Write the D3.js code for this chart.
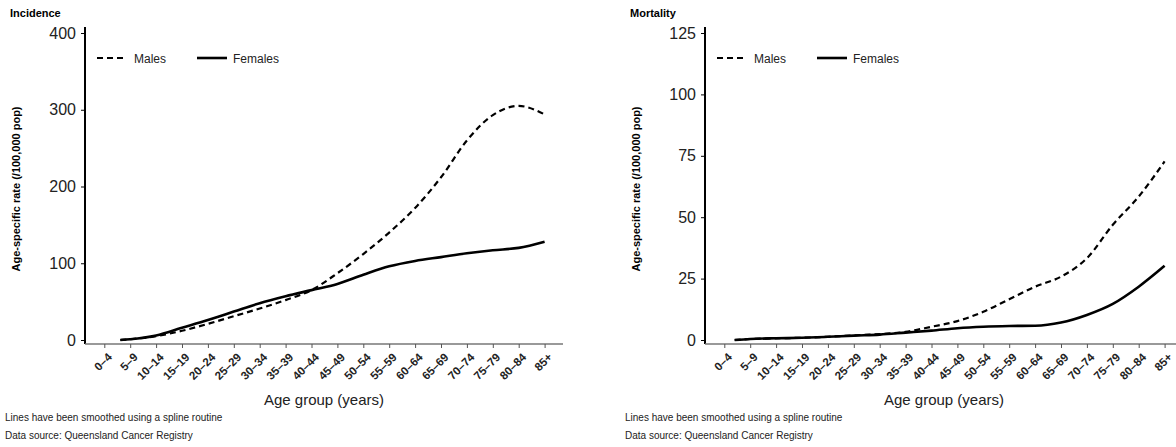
<!DOCTYPE html>
<html lang="en">
<head>
    <meta charset="UTF-8">
    <title>Incidence and mortality by age group</title>
    <script src="https://d3js.org/d3.v7.min.js"></script>
    <style>
        body { margin: 0; background: #fff; }
        text { font-family: Arial, "Liberation Sans", sans-serif; }
    </style>
</head>
<body>
    <svg width="1176" height="447"></svg>
    <script>

// Age groups on the x axis
const ageGroups = ['0\u20134', '5\u20139', '10\u201314', '15\u201319', '20\u201324', '25\u201329', '30\u201334', '35\u201339',
    '40\u201344', '45\u201349', '50\u201354', '55\u201359', '60\u201364', '65\u201369', '70\u201374', '75\u201379', '80\u201384', '85+'];

// Incidence (rate per 100,000), one value per age group, null where no line is drawn
const incidenceMales   = [null, 1, 5, 12, 21, 31, 41, 52, 65, 87, 112, 140, 172, 212, 260, 293, 305, 294];
const incidenceFemales = [null, 1, 6, 16, 26, 37, 48, 57, 65, 73, 85, 96, 103, 108, 113, 117, 120, 128];
const incidenceTicks = [0, 100, 200, 300, 400];
// smoothed line begins part way into the first age group (in age-group units)
const incidenceStart = 0.62;

// Mortality (rate per 100,000)
const mortalityMales   = [null, 0.4, 0.7, 0.9, 1.3, 1.9, 2.4, 3.3, 5.4, 7.7, 11.5, 16.6, 21.7, 25.8, 33.3, 46.9, 58.4, 72.7];
const mortalityFemales = [null, 0.4, 0.7, 0.9, 1.3, 1.8, 2.2, 3.0, 3.8, 4.8, 5.4, 5.7, 5.8, 7.1, 10.2, 14.7, 21.7, 30.2];
const mortalityTicks = [0, 25, 50, 75, 100, 125];
const mortalityStart = 0.4;

const svg = d3.select("svg");

function drawPanel(offsetX, title, ticks, males, females, start) {
    const g = svg.append("g").attr("transform", `translate(${offsetX},0)`);

    const axisX = 85, axisY = 344, axisEnd = 563;
    const x = d3.scalePoint().domain(ageGroups).range([104.3, 544.6]);
    const xi = d3.scaleLinear().domain([0, ageGroups.length - 1]).range([104.3, 544.6]);
    const y = d3.scaleLinear().domain([0, d3.max(ticks)]).range([340, 33]);

    // title
    g.append("text").attr("x", 10).attr("y", 17)
        .attr("font-size", 11).attr("font-weight", "bold").text(title);

    // y axis
    g.append("line").attr("x1", axisX).attr("x2", axisX).attr("y1", 27).attr("y2", axisY)
        .attr("stroke", "#000").attr("stroke-width", 2);
    const yAxis = g.append("g").attr("transform", `translate(${axisX},0)`)
        .call(d3.axisLeft(y).tickValues(ticks).tickSize(4).tickPadding(5));
    yAxis.select(".domain").remove();
    yAxis.selectAll("line").attr("stroke", "#000");
    yAxis.selectAll("text").attr("font-size", 16).attr("fill", "#222")
        .style("font-family", "Arial, 'Liberation Sans', sans-serif");

    // x axis
    g.append("line").attr("x1", axisX).attr("x2", axisEnd).attr("y1", axisY).attr("y2", axisY)
        .attr("stroke", "#777").attr("stroke-width", 1.5);
    const xAxis = g.append("g").attr("transform", `translate(0,${axisY})`)
        .call(d3.axisBottom(x).tickSize(4));
    xAxis.select(".domain").remove();
    xAxis.selectAll("line").attr("stroke", "#555");
    xAxis.selectAll("text")
        .attr("font-size", 11.5).attr("font-weight", "bold").attr("fill", "#222")
        .style("font-family", "Arial, 'Liberation Sans', sans-serif")
        .attr("text-anchor", "end")
        .attr("x", 0).attr("y", 0)
        .attr("dx", 0).attr("dy", "0.35em")
        .attr("transform", "translate(5,11) rotate(-45)");

    // axis titles
    g.append("text")
        .attr("transform", `translate(20,189) rotate(-90)`)
        .attr("text-anchor", "middle").attr("font-size", 11).attr("font-weight", "bold")
        .text("Age-specific rate (/100,000 pop)");
    g.append("text").attr("x", (axisX + axisEnd) / 2).attr("y", 405)
        .attr("text-anchor", "middle").attr("font-size", 15).attr("fill", "#222")
        .text("Age group (years)");

    // footnotes
    g.append("text").attr("x", 5).attr("y", 421).attr("font-size", 10).attr("fill", "#222")
        .text("Lines have been smoothed using a spline routine");
    g.append("text").attr("x", 5).attr("y", 439).attr("font-size", 10).attr("fill", "#222")
        .text("Data source: Queensland Cancer Registry");

    // lines
    const line = d3.line()
        .x(d => xi(d.i))
        .y(d => y(d.v))
        .curve(d3.curveMonotoneX);

    function points(values) {
        const pts = [{ i: start, v: 0 }];
        values.forEach((v, i) => { if (v !== null) pts.push({ i, v }); });
        return pts;
    }

    g.append("path").datum(points(females))
        .attr("fill", "none").attr("stroke", "#000").attr("stroke-width", 2.6)
        .attr("d", line);
    g.append("path").datum(points(males))
        .attr("fill", "none").attr("stroke", "#000").attr("stroke-width", 2.2)
        .attr("stroke-dasharray", "6,4")
        .attr("d", line);

    // legend
    const lg = g.append("g").attr("transform", `translate(${axisX},58)`);
    lg.append("line").attr("x1", 12).attr("x2", 40).attr("y1", 0).attr("y2", 0)
        .attr("stroke", "#000").attr("stroke-width", 2.2).attr("stroke-dasharray", "6,4");
    lg.append("text").attr("x", 49).attr("y", 4.5).attr("font-size", 12).attr("fill", "#222").text("Males");
    lg.append("line").attr("x1", 112).attr("x2", 142).attr("y1", 0).attr("y2", 0)
        .attr("stroke", "#000").attr("stroke-width", 2.6);
    lg.append("text").attr("x", 148).attr("y", 4.5).attr("font-size", 12).attr("fill", "#222").text("Females");
}

drawPanel(0, "Incidence", incidenceTicks, incidenceMales, incidenceFemales, incidenceStart);
drawPanel(620, "Mortality", mortalityTicks, mortalityMales, mortalityFemales, mortalityStart);

    </script>
</body>
</html>
